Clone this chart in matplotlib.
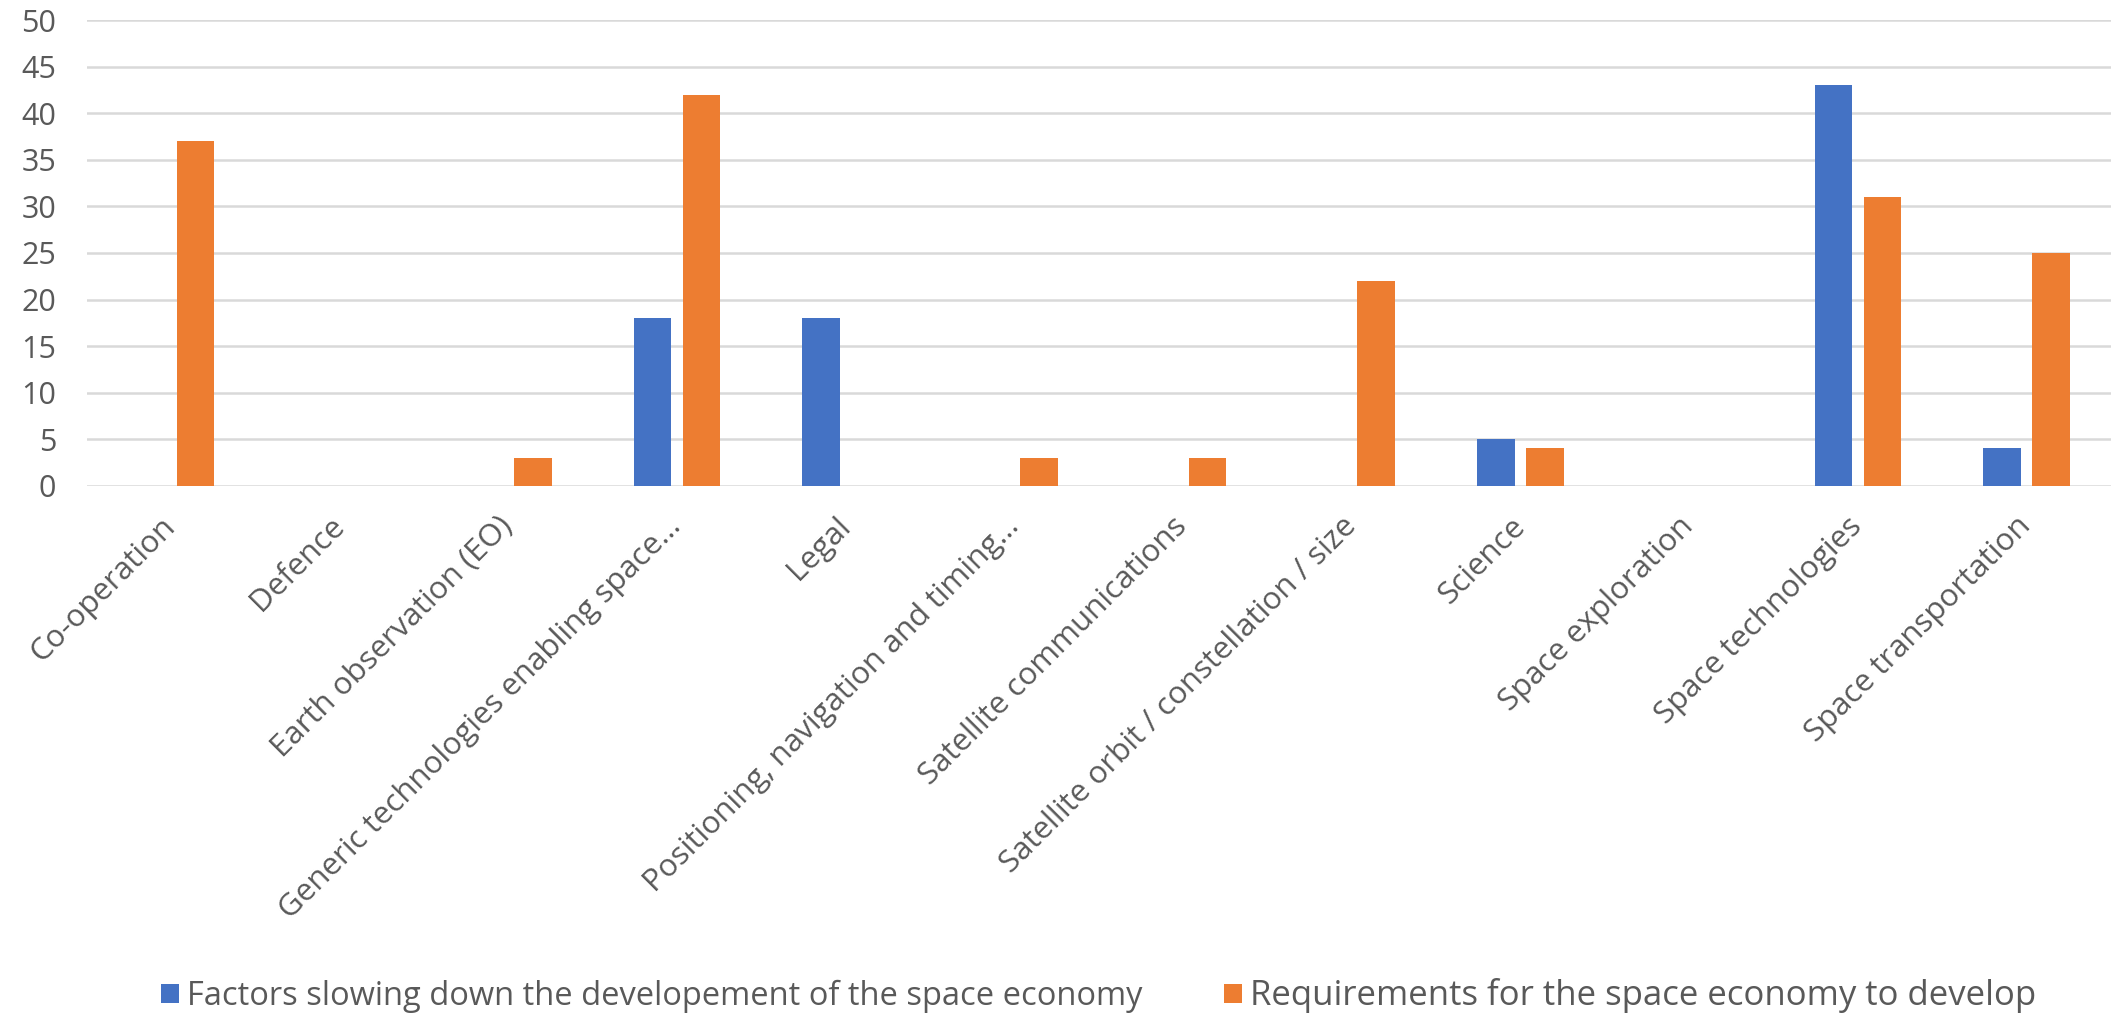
import matplotlib
matplotlib.use("Agg")
import matplotlib.pyplot as plt
import numpy as np

categories = ["Co-operation", "Defence", "Earth observation (EO)",
              "Generic technologies enabling space...", "Legal",
              "Positioning, navigation and timing...", "Satellite communications",
              "Satellite orbit / constellation / size", "Science",
              "Space exploration", "Space technologies", "Space transportation"]
slowing = [0, 0, 0, 18, 18, 0, 0, 0, 5, 0, 43, 4]
requirements = [37, 0, 3, 42, 0, 3, 3, 22, 4, 0, 31, 25]
series_names = ["Factors slowing down the developement of the space economy",
                "Requirements for the space economy to develop"]

plt.rcParams['font.family'] = ['Open Sans', 'DejaVu Sans']
grey = "#595959"

fig = plt.figure(figsize=(21.13, 10.16), dpi=100)
ax = fig.add_axes([0.041, 0.522, 0.958, 0.458])

x = np.arange(len(categories))
w = 0.223
off = 0.145
b1 = ax.bar(x - off, slowing, w, color="#4472C4", label=series_names[0], zorder=3)
b2 = ax.bar(x + off, requirements, w, color="#ED7D31", label=series_names[1], zorder=3)

ax.set_xlim(-0.5, len(categories) - 0.5)
ax.set_ylim(0, 50)
ax.set_yticks(range(0, 51, 5))
ax.yaxis.grid(True, color="#d9d9d9", linewidth=1.8, zorder=0)
ax.set_axisbelow(True)
for s in ax.spines.values():
    s.set_visible(False)
ax.tick_params(axis="both", length=0, colors=grey)
ax.tick_params(axis="y", labelsize=22, pad=22)
ax.set_xticks(x)
ax.set_xticklabels(categories, rotation=45, ha="right", va="center",
                   rotation_mode="anchor", fontsize=22.5, color=grey)
ax.tick_params(axis="x", pad=26)

leg = fig.legend(handles=[b1, b2], labels=series_names, loc="center",
                 bbox_to_anchor=(0.52, 0.02), ncol=2, frameon=False, fontsize=23.5,
                 labelcolor=grey, handlelength=0.55, handleheight=0.55,
                 handletextpad=0.25, columnspacing=2.5)
leg.get_texts()[1].set_fontsize(25)

fig.savefig("out.png", dpi=100)
